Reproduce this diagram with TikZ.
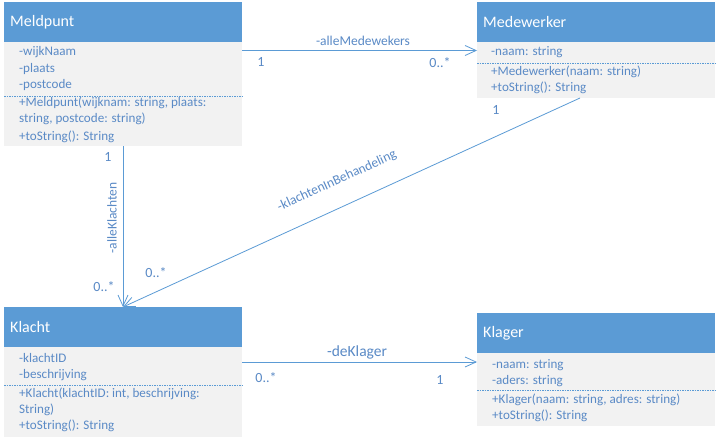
\documentclass[tikz,border=0pt]{standalone}
\usepackage{fontspec}
\setmainfont{Carlito}
\usetikzlibrary{arrows.meta,calc}
\definecolor{hdrblue}{HTML}{5B9BD5}
\definecolor{bodygray}{HTML}{F2F2F2}
\definecolor{txtblue}{HTML}{5A8AC6}
\definecolor{lineblue}{HTML}{5B9BD5}
\tikzset{
  hdr/.style={fill=hdrblue, draw=none, anchor=north west, minimum width=238pt, minimum height=40pt, text width=226pt, align=left, inner xsep=6pt, text=white, font=\fontsize{16}{18}\selectfont},
  bodybox/.style={fill=bodygray, draw=none, anchor=north west, minimum width=238pt, inner sep=0pt},
  mem/.style={anchor=west, inner sep=0pt, text=txtblue, font=\fontsize{13.1}{15}\selectfont, text height=9pt, text depth=3pt},
  sep/.style={draw=lineblue, line width=0.6pt, dash pattern=on 1.5pt off 1pt},
  assoc/.style={draw=lineblue, line width=0.8pt, -{Straight Barb[length=11pt,width=10pt,line width=0.8pt]}},
  mult/.style={text=txtblue, inner sep=0pt, font=\fontsize{14}{16}\selectfont},
  elab/.style={text=txtblue, inner sep=0pt, font=\fontsize{13.5}{15}\selectfont}
}
\begin{document}
\begin{tikzpicture}[x=1pt,y=-1pt]
\useasboundingbox (0,0) rectangle (717,441);
\fill[white] (0,0) rectangle (717,441);

% Meldpunt
\node[hdr] (mph) at (4,2) {Meldpunt};
\node[bodybox, minimum height=104pt] (mpb) at (4,42) {};
\node[mem] (mp1) at (19,53) {-wijkNaam};
\node[mem] (mp2) at (19,70) {-plaats};
\node[mem] (mp3) at (19,86) {-postcode};
\draw[sep] (4,96) -- (242,96);
\node[mem] (mp4) at (19,104) {+Meldpunt(wijknam: string, plaats:};
\node[mem] (mp5) at (19,120) {string, postcode: string)};
\node[mem] (mp6) at (19,137) {+toString(): String};

% Medewerker
\node[hdr] (mwh) at (477,2) {Medewerker};
\node[bodybox, minimum height=56pt] (mwb) at (477,42) {};
\node[mem] (mw1) at (491,53) {-naam: string};
\draw[sep] (477,63) -- (715,63);
\node[mem] (mw2) at (491,73) {+Medewerker(naam: string)};
\node[mem] (mw3) at (491,89) {+toString(): String};

% Klacht
\node[hdr] (klh) at (4,307) {Klacht};
\node[bodybox, minimum height=90pt] (klb) at (4,347) {};
\node[mem] (kl1) at (19,359) {-klachtID};
\node[mem] (kl2) at (19,375) {-beschrijving};
\draw[sep] (4,385) -- (242,385);
\node[mem] (kl3) at (19,394) {+Klacht(klachtID: int, beschrijving:};
\node[mem] (kl4) at (19,410) {String)};
\node[mem] (kl5) at (19,426) {+toString(): String};

% Klager
\node[hdr] (kgh) at (477,313) {Klager};
\node[bodybox, minimum height=73pt] (kgb) at (477,353) {};
\node[mem] (kg1) at (492,365) {-naam: string};
\node[mem] (kg2) at (492,381) {-aders: string};
\draw[sep] (477,390) -- (715,390);
\node[mem] (kg3) at (492,400) {+Klager(naam: string, adres: string)};
\node[mem] (kg4) at (492,416) {+toString(): String};

% connectors
\coordinate (a1s) at (mpb.north east |- 0,50.5);
\coordinate (a1e) at (mwb.north west |- 0,50.5);
\draw[assoc] (a1s) -- (a1e);
\node[elab] (l1) at (363,41) {-alleMedewekers};
\node[mult] (m1a) at (261,62) {1};
\node[mult] (m1b) at (440,63) {0..*};

\coordinate (a2s) at (123,146);
\coordinate (a2e) at (123,307);
\draw[assoc] (a2s) -- (a2e);
\node[elab, rotate=90] (l2) at (112,218) {-alleKlachten};
\node[mult] (m2a) at (108,157) {1};
\node[mult] (m2b) at (104,287) {0..*};

\coordinate (a3s) at (580,98);
\draw[assoc] (a3s) -- (a2e);
\node[elab, rotate=24.6] (l3) at (337,181) {-klachtenInBehandeling};
\node[mult] (m3a) at (496,110) {1};
\node[mult] (m3b) at (156,273) {0..*};

\coordinate (a4s) at (klb.north east |- 0,362);
\coordinate (a4e) at (kgb.north west |- 0,362);
\draw[assoc] (a4s) -- (a4e);
\node[elab, font=\fontsize{15.5}{17}\selectfont] (l4) at (357,352) {-deKlager};
\node[mult] (m4a) at (266,378) {0..*};
\node[mult] (m4b) at (440,380) {1};
\end{tikzpicture}
\end{document}
